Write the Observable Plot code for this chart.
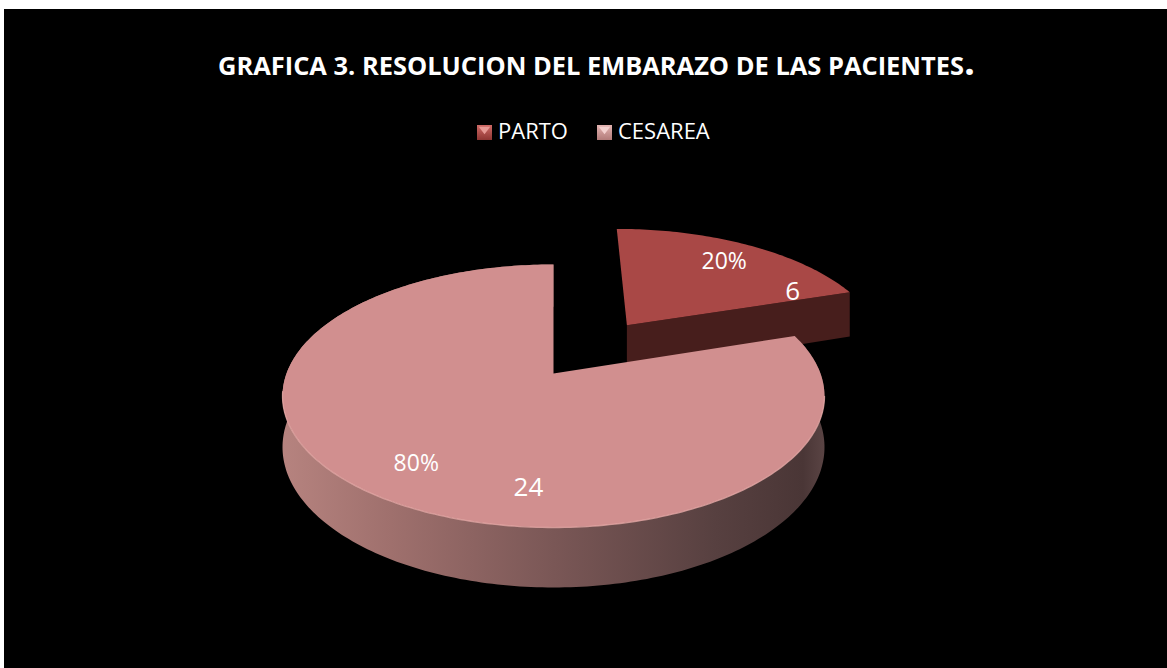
<!DOCTYPE html>
<html><head><meta charset="utf-8">
<script src="https://cdn.jsdelivr.net/npm/d3@7"></script>
<script src="https://cdn.jsdelivr.net/npm/@observablehq/plot@0.6"></script>
<style>
html,body{margin:0;padding:0;background:#fff;width:1167px;height:668px;overflow:hidden;}
#frame{position:absolute;left:4px;top:9px;width:1163px;height:659px;background:#000;overflow:hidden;font-family:"Open Sans",sans-serif;color:#fff;}
#title{position:absolute;left:214px;top:44px;font-weight:700;font-size:25px;line-height:1;white-space:nowrap;transform-origin:0 0;}
#title .dot{font-size:38px;line-height:0;}
.leg{position:absolute;top:110px;font-size:22px;line-height:1;white-space:nowrap;color:#fff;}
.sw{position:absolute;width:15px;height:15px;top:116px;overflow:hidden;}
.sw .tri{position:absolute;left:0;top:0;width:15px;height:15px;clip-path:polygon(12% 12%,88% 12%,50% 62%);}
#chart{position:absolute;left:0;top:160px;}
</style></head><body>
<div id="frame">
  <div id="title"></div>
  <div id="legend"></div>
  <div id="chart"></div>
</div>
<script>
// ---- data ----
const titleText = "GRAFICA 3. RESOLUCION DEL EMBARAZO DE LAS PACIENTES";
const categories = ["PARTO", "CESAREA"];
const values = [6, 24];
// ---- styles ----
const topColors = ["#a94846", "#d18f8f"];
const faceColors = ["#471e1c", "#7c5a59"];
const swatchColors = [["#cf6a66", "#8e3532", "#e79a95"], ["#e3b3b1", "#b27b79", "#f3d0ce"]];
const legendTextX = [494, 614];
const legendSwX = [473, 593];

// ---- layout ----
const W = 1163, H = 499;
const CX = 549, CY = 204, RX = 267, RY = 127.7;
const K = 0.171, DEPTH = 0.389;
const EXPLODE = [0.5, 0];
const PCT_R = 0.78, VAL_R = 0.78, VAL_SHIFT = [30, -30];

// title
const tEl = document.getElementById("title");
tEl.innerHTML = titleText + '<span class="dot">.</span>';
const w0 = tEl.getBoundingClientRect().width;
tEl.style.transform = `scaleX(${757 / w0})`;

// legend
const leg = document.getElementById("legend");
categories.forEach((c, i) => {
  const sw = document.createElement("div");
  sw.className = "sw";
  sw.style.left = legendSwX[i] + "px";
  sw.style.background = `linear-gradient(${swatchColors[i][0]}, ${swatchColors[i][1]})`;
  const tri = document.createElement("div");
  tri.className = "tri";
  tri.style.background = swatchColors[i][2];
  sw.appendChild(tri);
  leg.appendChild(sw);
  const t = document.createElement("div");
  t.className = "leg";
  t.style.left = legendTextX[i] + "px";
  t.textContent = c;
  leg.appendChild(t);
});

// geometry from data
const total = d3.sum(values);
function proj(u, v, dz = 0) { const w = 1 - K * v; return {X: u / w, Y: (v + dz) / w}; }
let acc = 0;
const slices = categories.map((c, i) => {
  const a0 = acc / total * 360; acc += values[i]; const a1 = acc / total * 360;
  const midDeg = (a0 + a1) / 2, mid = midDeg * Math.PI / 180;
  const e = EXPLODE[i];
  return {i, cat: c, value: values[i], pct: Math.round(values[i] / total * 100) + "%", a0, a1, midDeg, ox: e * Math.sin(mid), oy: -e * Math.cos(mid)};
});
function pt(s, deg, r, dz = 0) { const t = deg * Math.PI / 180; return proj(s.ox + r * Math.sin(t), s.oy - r * Math.cos(t), dz); }
function arc(s, from, to, dz = 0) {
  const n = Math.max(2, Math.ceil(Math.abs(to - from)));
  return d3.range(n + 1).map(k => pt(s, from + (to - from) * k / n, 1, dz));
}
const topFace = s => [pt(s, 0, 0), ...arc(s, s.a0, s.a1), pt(s, 0, 0)];
const radialFace = (s, a) => [pt(s, a, 0), pt(s, a, 1), pt(s, a, 1, DEPTH), pt(s, a, 0, DEPTH)];
const outerSide = s => [...arc(s, s.a0, s.a1), ...arc(s, s.a1, s.a0, DEPTH)];

const parto = slices[0], ces = slices[1];
const rim = arc(ces, 100, 262);

const pctLabels = slices.map(s => ({...pt(s, s.midDeg, PCT_R), text: s.pct}));
const valLabels = slices.map(s => ({...pt(s, s.midDeg + VAL_SHIFT[s.i], VAL_R), text: String(s.value)}));

const svg = Plot.plot({
  width: W, height: H,
  marginTop: 0, marginRight: 0, marginBottom: 0, marginLeft: 0,
  style: {background: "transparent", fontFamily: "Open Sans"},
  x: {type: "linear", domain: [-CX / RX, (W - CX) / RX], range: [0, W], axis: null},
  y: {type: "linear", domain: [-CY / RY, (H - CY) / RY], range: [0, H], axis: null},
  marks: [
    Plot.line(radialFace(parto, parto.a1), {x: "X", y: "Y", fill: faceColors[0], stroke: "none"}),
    Plot.line(topFace(parto), {x: "X", y: "Y", fill: topColors[0], stroke: "none"}),
    Plot.line(outerSide(ces), {x: "X", y: "Y", fill: "url(#cesSide)", stroke: "none"}),
    Plot.line(topFace(ces), {x: "X", y: "Y", fill: topColors[1], stroke: "none"}),
    Plot.line(rim, {x: "X", y: "Y", stroke: "#e6aaa8", strokeWidth: 1.3, strokeOpacity: 0.8}),
    Plot.text(pctLabels, {x: "X", y: "Y", text: "text", fill: "white", fontSize: 23, fontFamily: "Open Sans"}),
    Plot.text(valLabels, {x: "X", y: "Y", text: "text", fill: "white", fontSize: 26, fontFamily: "Open Sans"})
  ]
});
const defs = d3.select(svg).insert("defs", ":first-child");
const grad = defs.append("linearGradient").attr("id", "cesSide").attr("x1", 0).attr("x2", 1).attr("y1", 0).attr("y2", 0);
[[0, "#b6837f"], [0.2, "#9f706d"], [0.5, "#7a5756"], [0.8, "#574040"], [0.96, "#4a3636"], [1, "#5a4444"]]
  .forEach(([o, c]) => grad.append("stop").attr("offset", o).attr("stop-color", c));
document.getElementById("chart").appendChild(svg);
</script>
</body></html>
